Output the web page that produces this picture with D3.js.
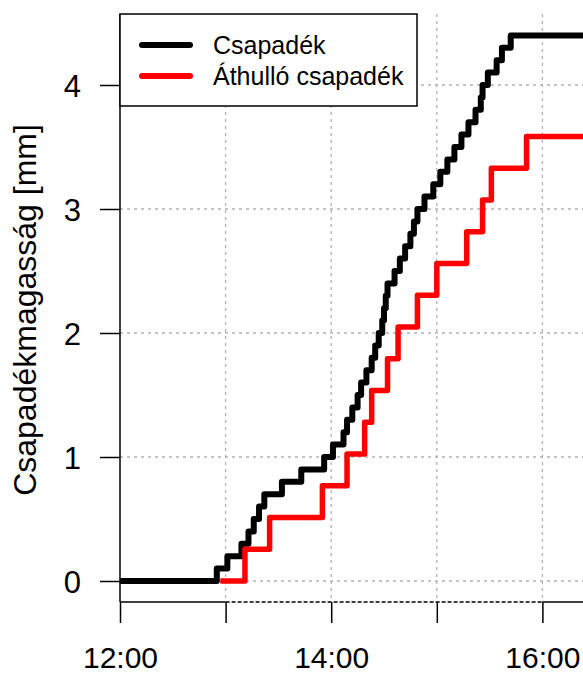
<!DOCTYPE html>
<html>
<head>
    <meta charset="utf-8" />
    <title>Csapadék</title>
    <script src="https://d3js.org/d3.v7.min.js"></script>
    <style>
        body { margin: 0; background: #fff; }
        text { font-family: "Liberation Sans", Arial, sans-serif; fill: #000; }
    </style>
</head>
<body>
    <svg class="chart"></svg>
    <script>
        var svgWidth = 583, svgHeight = 675;

        // Csapadék (black) - cumulative rainfall, step series
        var rainTimes = ["12:00","12:55","13:01","13:09","13:13","13:16","13:19","13:22","13:32","13:43",
                         "13:56","14:01","14:07","14:09","14:12","14:15","14:17","14:20","14:23","14:25",
                         "14:27","14:29","14:30","14:31","14:32","14:36","14:39","14:42","14:45","14:47",
                         "14:49","14:53","14:58","15:02","15:06","15:10","15:14","15:18","15:22","15:25",
                         "15:26","15:29","15:34","15:37","15:42","16:30"];
        var rainValues = [0,0.1,0.2,0.3,0.4,0.5,0.6,0.7,0.8,0.9,
                          1.0,1.1,1.2,1.3,1.4,1.5,1.6,1.7,1.8,1.9,
                          2.0,2.1,2.2,2.3,2.4,2.5,2.6,2.7,2.8,2.9,
                          3.0,3.1,3.2,3.3,3.4,3.5,3.6,3.7,3.8,3.9,
                          4.0,4.1,4.2,4.3,4.4,4.4];

        // Áthulló csapadék (red) - throughfall
        var thruTimes = ["12:57","13:11","13:25","13:55","14:09","14:19","14:23","14:32","14:38","14:49",
                         "15:00","15:17","15:26","15:31","15:51","16:30"];
        var thruValues = [0,0.256,0.512,0.768,1.024,1.28,1.536,1.792,2.048,2.304,
                          2.56,2.816,3.072,3.328,3.584,3.584];

        var yTicks = [0, 1, 2, 3, 4];
        var xTicks = ["12:00","13:00","14:00","15:00","16:00","17:00"];
        var xLabels = ["12:00","14:00","16:00"];
        var legendNames = ["Csapadék", "Áthulló csapadék"];
        var legendColors = ["#000000", "#ff0000"];

        var parseTime = d3.timeParse("%H:%M");
        var fmt = d3.timeFormat("%H:%M");

        var rain = rainTimes.map((t, i) => ({t: parseTime(t), v: rainValues[i]}));
        var thru = thruTimes.map((t, i) => ({t: parseTime(t), v: thruValues[i]}));

        var xScale = d3.scaleTime()
            .domain([parseTime("12:00"), parseTime("17:00")])
            .range([120, 648]);
        var yScale = d3.scaleLinear().domain([0, 4]).range([581, 85]);

        var plotLeft = 120, plotTop = 14, axisY = 602;

        var svg = d3.select(".chart")
            .attr("width", svgWidth)
            .attr("height", svgHeight);

        // grid
        var grid = svg.append("g").attr("class", "grid")
            .attr("stroke", "#b3b3b3").attr("stroke-width", 1.3)
            .attr("stroke-dasharray", "3,4");
        grid.selectAll(".hgrid").data(yTicks).enter().append("line")
            .attr("x1", plotLeft).attr("x2", svgWidth)
            .attr("y1", d => yScale(d)).attr("y2", d => yScale(d));
        grid.selectAll(".vgrid").data(xTicks.slice(1)).enter().append("line")
            .attr("x1", d => xScale(parseTime(d))).attr("x2", d => xScale(parseTime(d)))
            .attr("y1", plotTop).attr("y2", axisY);

        // series
        var line = d3.line()
            .x(d => xScale(d.t))
            .y(d => yScale(d.v))
            .curve(d3.curveStepAfter);

        svg.append("path").datum(rain)
            .attr("d", line)
            .attr("fill", "none").attr("stroke", legendColors[0])
            .attr("stroke-width", 6).attr("stroke-linejoin", "round");
        svg.append("path").datum(thru)
            .attr("d", line)
            .attr("fill", "none").attr("stroke", legendColors[1])
            .attr("stroke-width", 5.5).attr("stroke-linejoin", "round");

        // y axis
        var yAxis = d3.axisLeft(yScale).tickValues(yTicks).tickSize(20).tickPadding(19)
            .tickFormat(d3.format("d"));
        var yg = svg.append("g").attr("transform", "translate(" + plotLeft + ",0)").call(yAxis);
        yg.select(".domain").remove();
        yg.selectAll(".tick line").attr("stroke", "#000").attr("stroke-width", 1.5);
        yg.selectAll(".tick text").style("font-size", "31px")
            .style("font-family", "'Liberation Sans', Arial, sans-serif").attr("dy", "0.36em");
        svg.append("line")
            .attr("x1", plotLeft).attr("x2", plotLeft)
            .attr("y1", plotTop).attr("y2", axisY)
            .attr("stroke", "#000").attr("stroke-width", 1.5);

        // x axis
        var xAxis = d3.axisBottom(xScale)
            .tickValues(xTicks.map(parseTime)).tickSize(21)
            .tickFormat(d => xLabels.indexOf(fmt(d)) >= 0 ? fmt(d) : "");
        var xg = svg.append("g").attr("transform", "translate(0," + axisY + ")").call(xAxis);
        xg.select(".domain").remove();
        xg.selectAll(".tick line").attr("stroke", "#000").attr("stroke-width", 1.5);
        xg.selectAll(".tick text").style("font-size", "30px")
            .style("font-family", "'Liberation Sans', Arial, sans-serif")
            .attr("y", 66).attr("dy", 0);
        var x13 = xScale(parseTime("13:00")), x16 = xScale(parseTime("16:00"));
        svg.append("line").attr("x1", plotLeft).attr("x2", x13).attr("y1", axisY).attr("y2", axisY)
            .attr("stroke", "#000").attr("stroke-width", 1.5);
        svg.append("line").attr("x1", x13).attr("x2", x16).attr("y1", axisY).attr("y2", axisY)
            .attr("stroke", "#000").attr("stroke-width", 1.5).attr("stroke-dasharray", "4,2");
        svg.append("line").attr("x1", x16).attr("x2", svgWidth).attr("y1", axisY).attr("y2", axisY)
            .attr("stroke", "#000").attr("stroke-width", 1.5);

        // y label
        svg.append("text")
            .attr("transform", "translate(36,310) rotate(-90)")
            .attr("text-anchor", "middle")
            .style("font-size", "32px")
            .text("Csapadékmagasság [mm]");

        // legend
        var legend = svg.append("g");
        legend.append("rect")
            .attr("x", plotLeft).attr("y", plotTop).attr("width", 297).attr("height", 92)
            .attr("fill", "#fff").attr("stroke", "#000").attr("stroke-width", 1.5);
        var items = legend.selectAll(".item").data(legendNames).enter().append("g")
            .attr("transform", (d, i) => "translate(0," + (45 + i * 31) + ")");
        items.append("line")
            .attr("x1", 142).attr("x2", 190).attr("y1", 0).attr("y2", 0)
            .attr("stroke", (d, i) => legendColors[i]).attr("stroke-width", 6)
            .attr("stroke-linecap", "round");
        items.append("text")
            .attr("x", 213).attr("y", 9)
            .style("font-size", "25px")
            .text(d => d);
    </script>
</body>
</html>
